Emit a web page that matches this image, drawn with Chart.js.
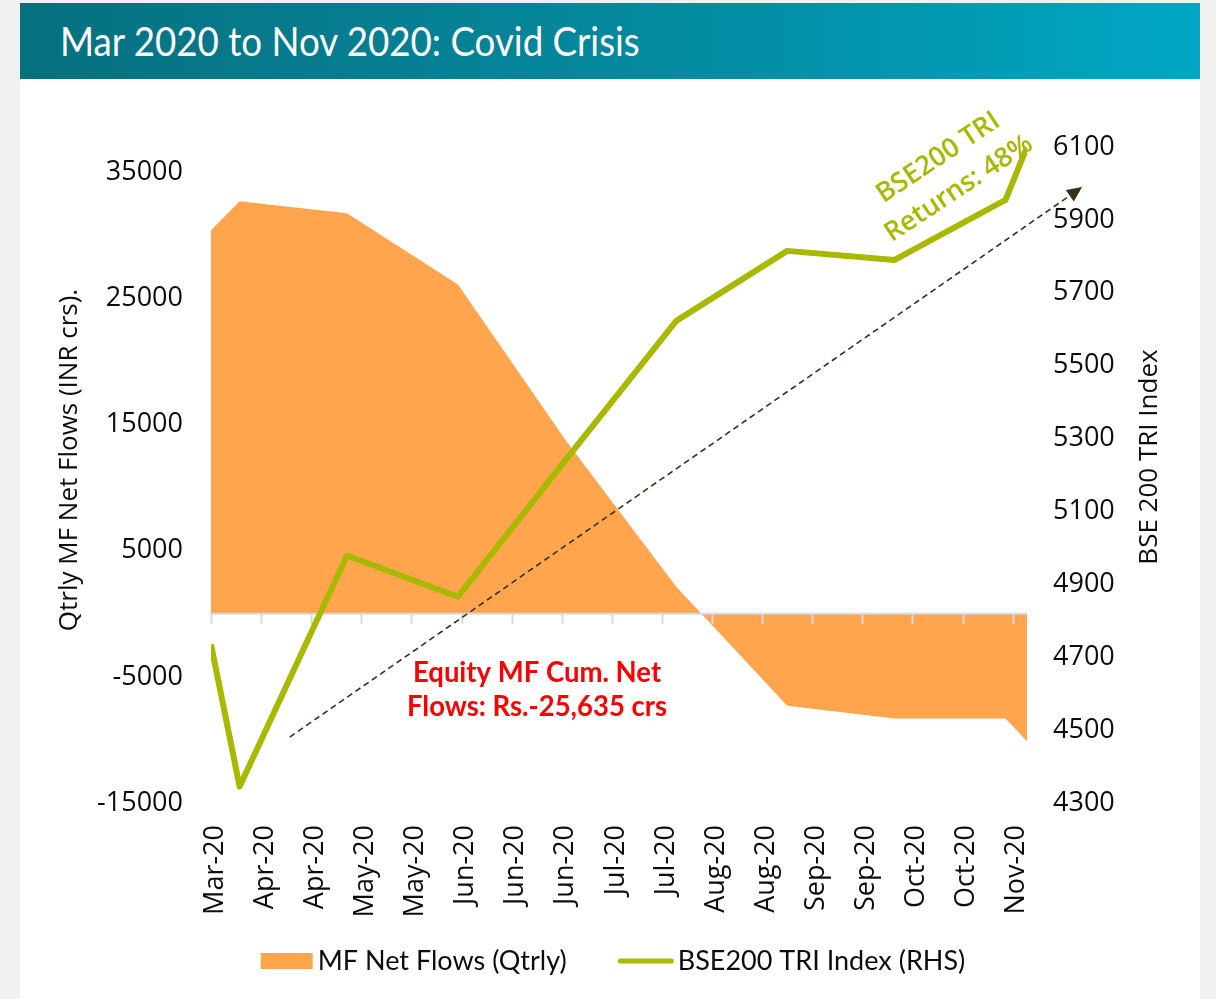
<!DOCTYPE html>
<html>
<head>
<meta charset="utf-8">
<script src="https://cdn.jsdelivr.net/npm/chart.js@4.4.0/dist/chart.umd.min.js"></script>
<style>
  html, body { margin: 0; padding: 0; }
  body { width: 1216px; height: 999px; background: #f1f1f1; position: relative; overflow: hidden; }
  .card { position: absolute; left: 20px; top: 3px; width: 1180px; height: 996px; background: #fff; }
  .head { position: absolute; left: 20px; top: 3px; width: 1180px; height: 76px;
          background: linear-gradient(90deg, #07707f 0%, #048aa0 55%, #00a7c5 100%); }
  .head h1 { margin: 0; position: absolute; left: 40px; top: 0; white-space: nowrap;
             font: 400 41px Lato, sans-serif; line-height: 76px; color: #fff; transform-origin: left center; }
  #chart { position: absolute; left: 0; top: 0; }
</style>
</head>
<body>
<div class="card"></div>
<div class="head"><h1 id="title">Mar 2020 to Nov 2020: Covid Crisis</h1></div>
<canvas id="chart" width="1216" height="999"></canvas>
<script>
// month-end points (plus the Mar-23 low and early Nov)
const dates = ['2020-03-23', '2020-03-31', '2020-04-30', '2020-05-31', '2020-06-30',
               '2020-07-31', '2020-08-31', '2020-09-30', '2020-10-31', '2020-11-06'];
const mfFlows = [30400, 32700, 31750, 26100, 13800, 2150, -7300, -8300, -8300, -10100];
const bse200 = [4735, 4345, 4979, 4866, 5240, 5623, 5815, 5790, 5955, 6100];

const tickLabels = ['Mar-20', 'Apr-20', 'Apr-20', 'May-20', 'May-20', 'Jun-20', 'Jun-20', 'Jun-20',
                    'Jul-20', 'Jul-20', 'Aug-20', 'Aug-20', 'Sep-20', 'Sep-20', 'Oct-20', 'Oct-20', 'Nov-20'];
const leftTicks = [-15000, -5000, 5000, 15000, 25000, 35000];

const DAY = 86400000;
const start = Date.parse(dates[0]);
const days = dates.map(d => (Date.parse(d) - start) / DAY);
const tickDays = tickLabels.map((l, i) => i * 14);

const orange = '#ffa54e';
const green = '#a9b800';

// title squeezed to the narrow face of the original
const t = document.getElementById('title');
t.style.transform = 'scaleX(' + (580 / t.offsetWidth) + ')';

const PAD = { top: 147, left: 0, right: 0, bottom: 0 };

const decor = {
  id: 'decor',
  beforeDatasetsDraw(chart) {
    const { ctx, chartArea: a, scales: { x, y } } = chart;
    const y0 = y.getPixelForValue(0);
    ctx.save();
    ctx.strokeStyle = '#d9d9d9';
    ctx.lineWidth = 2;
    ctx.beginPath();
    ctx.moveTo(a.left, y0);
    ctx.lineTo(a.right, y0);
    x.ticks.forEach(tk => {
      const px = Math.round(x.getPixelForValue(tk.value)) + 0.5;
      ctx.moveTo(px, y0);
      ctx.lineTo(px, y0 + 10);
    });
    ctx.stroke();
    ctx.restore();
  },
  afterDraw(chart) {
    const { ctx, chartArea: a, scales: { x, y, y2 } } = chart;
    ctx.save();

    // trend arrow
    const x1 = x.getPixelForValue(22), yy1 = y2.getPixelForValue(4481);
    const x2 = x.getPixelForValue(243.4), yy2 = y2.getPixelForValue(5990);
    const ang = Math.atan2(yy2 - yy1, x2 - x1);
    const headLen = 15;
    ctx.strokeStyle = '#3a2e1e';
    ctx.fillStyle = '#3a2e1e';
    ctx.lineWidth = 1.6;
    ctx.setLineDash([6, 4]);
    ctx.beginPath();
    ctx.moveTo(x1, yy1);
    ctx.lineTo(x2 - headLen * Math.cos(ang), yy2 - headLen * Math.sin(ang));
    ctx.stroke();
    ctx.setLineDash([]);
    ctx.beginPath();
    ctx.moveTo(x2, yy2);
    ctx.lineTo(x2 - headLen * Math.cos(ang) + 7 * Math.sin(ang), yy2 - headLen * Math.sin(ang) - 7 * Math.cos(ang));
    ctx.lineTo(x2 - headLen * Math.cos(ang) - 7 * Math.sin(ang), yy2 - headLen * Math.sin(ang) + 7 * Math.cos(ang));
    ctx.closePath();
    ctx.fill();

    // red note
    const nx = x.getPixelForValue(91.1), ny = y.getPixelForValue(-5400);
    ctx.font = '700 29px Lato, sans-serif';
    ctx.fillStyle = '#fe0000';
    ctx.textAlign = 'center';
    ctx.textBaseline = 'alphabetic';
    const sx = 260 / ctx.measureText('Flows: Rs.-25,635 crs').width;
    ctx.save();
    ctx.translate(nx, ny);
    ctx.scale(sx, 1);
    ctx.fillText('Equity MF Cum. Net', 0, 0);
    ctx.fillText('Flows: Rs.-25,635 crs', 0, 34);
    ctx.restore();

    // returns note
    const bx = x.getPixelForValue(206), by = y2.getPixelForValue(6029);
    ctx.save();
    ctx.translate(bx, by);
    ctx.rotate(-33.6 * Math.PI / 180);
    ctx.font = '600 27px "Open Sans", sans-serif';
    ctx.fillStyle = green;
    ctx.textBaseline = 'middle';
    ctx.fillText('BSE200 TRI', 0, -18);
    ctx.fillText('Returns: 48%', 0, 19);
    ctx.restore();

    // axis titles
    ctx.font = '400 26px "Open Sans", sans-serif';
    ctx.fillStyle = '#0d0d0d';
    ctx.textBaseline = 'middle';
    ctx.save();
    ctx.translate(a.left - 141, 460);
    ctx.rotate(-Math.PI / 2);
    ctx.fillText('Qtrly MF Net Flows (INR crs).', 0, 0);
    ctx.restore();
    ctx.save();
    ctx.translate(a.right + 123, 457);
    ctx.rotate(-Math.PI / 2);
    ctx.fillText('BSE 200 TRI Index', 0, 0);
    ctx.restore();

    // legend
    const ds = chart.data.datasets;
    ctx.font = '400 27px Lato, sans-serif';
    ctx.textAlign = 'left';
    const w1 = ctx.measureText(ds[0].label).width;
    const w2 = ctx.measureText(ds[1].label).width;
    const total = 52 + 5 + w1 + 51 + 56 + 4 + w2;
    const ly = 961;
    let lx = 613 - total / 2;
    ctx.fillStyle = ds[0].backgroundColor;
    ctx.fillRect(lx, ly - 8, 52, 16);
    ctx.fillStyle = '#0d0d0d';
    ctx.fillText(ds[0].label, lx + 57, ly);
    lx += 57 + w1 + 51;
    ctx.strokeStyle = ds[1].borderColor;
    ctx.lineWidth = 5;
    ctx.lineCap = 'round';
    ctx.beginPath();
    ctx.moveTo(lx + 2.5, ly);
    ctx.lineTo(lx + 53.5, ly);
    ctx.stroke();
    ctx.fillText(ds[1].label, lx + 60, ly);

    ctx.restore();
  }
};

const tickFont = { family: 'Open Sans', size: 27 };

new Chart(document.getElementById('chart'), {
  type: 'line',
  data: {
    datasets: [
      {
        label: 'MF Net Flows (Qtrly)',
        data: days.map((d, i) => ({ x: d, y: mfFlows[i] })),
        yAxisID: 'y',
        fill: 'origin',
        backgroundColor: orange,
        borderColor: 'rgba(0,0,0,0)',
        borderWidth: 0,
        pointRadius: 0,
        tension: 0
      },
      {
        label: 'BSE200 TRI Index (RHS)',
        data: days.map((d, i) => ({ x: d, y: bse200[i] })),
        yAxisID: 'y2',
        fill: false,
        borderColor: green,
        backgroundColor: green,
        borderWidth: 6,
        borderJoinStyle: 'round',
        pointRadius: 0,
        tension: 0
      }
    ]
  },
  options: {
    responsive: false,
    animation: false,
    layout: { padding: PAD },
    plugins: {
      filler: { drawTime: 'beforeDatasetsDraw' },
      tooltip: { enabled: false },
      legend: { display: false }
    },
    scales: {
      x: {
        type: 'linear',
        min: 0,
        max: 228,
        grid: { display: false, drawTicks: false },
        border: { display: false },
        afterBuildTicks: s => { s.ticks = tickDays.map(v => ({ value: v })); },
        afterFit: s => { s.height = 999 - PAD.bottom - 803; },
        ticks: {
          autoSkip: false,
          minRotation: 90,
          maxRotation: 90,
          padding: 22,
          labelOffset: 4,
          color: '#0d0d0d',
          font: tickFont,
          callback: (v, i) => tickLabels[i]
        }
      },
      y: {
        position: 'left',
        min: -15000,
        max: 37000,
        grid: { display: false, drawTicks: false },
        border: { display: false },
        afterBuildTicks: s => { s.ticks = leftTicks.map(v => ({ value: v })); },
        afterFit: s => { s.width = 211 - PAD.left; },
        ticks: { padding: 28, color: '#0d0d0d', font: tickFont, callback: v => String(v) }
      },
      y2: {
        position: 'right',
        min: 4300,
        max: 6100,
        grid: { display: false, drawTicks: false },
        border: { display: false },
        afterFit: s => { s.width = 1216 - PAD.right - 1027; },
        ticks: { stepSize: 200, padding: 26, color: '#0d0d0d', font: tickFont, callback: v => String(v) }
      }
    }
  },
  plugins: [decor]
});
</script>
</body>
</html>
